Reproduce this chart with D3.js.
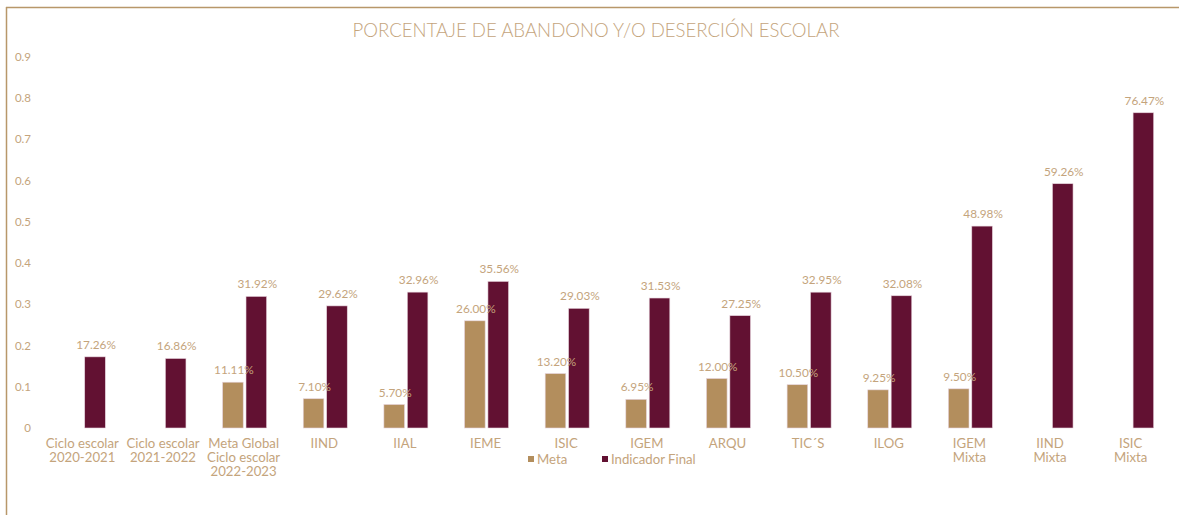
<!DOCTYPE html>
<html>
<head>
<meta charset="utf-8">
<style>
  body { margin: 0; background: #fff; }
  svg text { font-family: "Lato", "Noto Sans", sans-serif; }
</style>
</head>
<body>
<svg width="1179" height="515"></svg>
<script src="https://d3js.org/d3.v7.min.js"></script>
<script>
// chart data
var categories = ["Ciclo escolar\n2020-2021", "Ciclo escolar\n2021-2022", "Meta Global\nCiclo escolar\n2022-2023",
  "IIND", "IIAL", "IEME", "ISIC", "IGEM", "ARQU", "TIC\u00b4S", "ILOG", "IGEM\nMixta", "IIND\nMixta", "ISIC\nMixta"];
var meta = [null, null, 0.1111, 0.071, 0.057, 0.26, 0.132, 0.0695, 0.12, 0.105, 0.0925, 0.095, null, null];
var indicador = [0.1726, 0.1686, 0.3192, 0.2962, 0.3296, 0.3556, 0.2903, 0.3153, 0.2725, 0.3295, 0.3208, 0.4898, 0.5926, 0.7647];
var yTicks = [0, 0.1, 0.2, 0.3, 0.4, 0.5, 0.6, 0.7, 0.8, 0.9];
var seriesNames = ["Meta", "Indicador Final"];

var tan = "#b38e5d", maroon = "#621132", textCol = "#c4a47c";

var svg = d3.select("svg");

// frame lines (top and left)
svg.append("line").attr("x1", 6).attr("x2", 1179).attr("y1", 7.5).attr("y2", 7.5)
  .attr("stroke", "#b8976a").attr("stroke-width", 1.5);
svg.append("line").attr("x1", 6.5).attr("x2", 6.5).attr("y1", 7).attr("y2", 515)
  .attr("stroke", "#b8976a").attr("stroke-width", 1.5);

svg.append("text")
  .attr("x", 596).attr("y", 37)
  .attr("text-anchor", "middle")
  .attr("fill", textCol)
  .attr("font-size", 18.6)
  .attr("font-weight", 300)
  .text("PORCENTAJE DE ABANDONO Y/O DESERCIÓN ESCOLAR");

var x = d3.scaleBand().domain(categories).range([42, 1171]);
var y = d3.scaleLinear().domain([0, 0.9]).range([428, 57]);
var sub = d3.scaleBand().domain(seriesNames).range([-21, 23]).paddingInner(0.12);

// y tick labels
svg.append("g").selectAll("text")
  .data(yTicks).enter().append("text")
  .attr("x", 31).attr("y", function(d) { return y(d) + 4; })
  .attr("text-anchor", "end")
  .attr("fill", textCol).attr("font-size", 11.5)
  .text(function(d) { return d3.format("~g")(d); });

var rows = categories.map(function(c, i) { return { cat: c, vals: [meta[i], indicador[i]] }; });

var grp = svg.append("g").selectAll("g")
  .data(rows).enter().append("g")
  .attr("transform", function(d) { return "translate(" + (x(d.cat) + x.bandwidth() / 2) + ",0)"; });

var cols = [tan, maroon];
// bars first, then value labels on top
seriesNames.forEach(function(s, k) {
  grp.filter(function(d) { return d.vals[k] != null; })
    .append("rect")
    .attr("x", sub(s))
    .attr("width", sub.bandwidth())
    .attr("y", function(d) { return y(d.vals[k]); })
    .attr("height", function(d) { return y(0) - y(d.vals[k]); })
    .attr("fill", cols[k])
    .attr("stroke", "#e6d3dc").attr("stroke-width", 0.6);
});
seriesNames.forEach(function(s, k) {
  grp.filter(function(d) { return d.vals[k] != null; })
    .append("text")
    .attr("x", sub(s) + sub.bandwidth() / 2 + 1)
    .attr("y", function(d) { return y(d.vals[k]) - 8; })
    .attr("text-anchor", "middle")
    .attr("fill", textCol).attr("font-size", 11.8)
    .text(function(d) { return d3.format(".2%")(d.vals[k]); });
});

// category labels
grp.append("text")
  .attr("y", 448)
  .attr("text-anchor", "middle")
  .attr("fill", textCol).attr("font-size", 13.2)
  .selectAll("tspan")
  .data(function(d) { return d.cat.split("\n"); })
  .enter().append("tspan")
  .attr("x", 0)
  .attr("dy", function(d, i) { return i === 0 ? 0 : 14; })
  .text(function(d) { return d; });

// legend
var legX = [528, 602];
var leg = svg.append("g").selectAll("g")
  .data(seriesNames).enter().append("g")
  .attr("transform", function(d, i) { return "translate(" + legX[i] + ",456)"; });
leg.append("rect").attr("width", 6).attr("height", 6)
  .attr("fill", function(d, i) { return cols[i]; });
leg.append("text").attr("x", 9).attr("y", 7.5)
  .attr("fill", textCol).attr("font-size", 13.2)
  .text(function(d) { return d; });
</script>
</body>
</html>
